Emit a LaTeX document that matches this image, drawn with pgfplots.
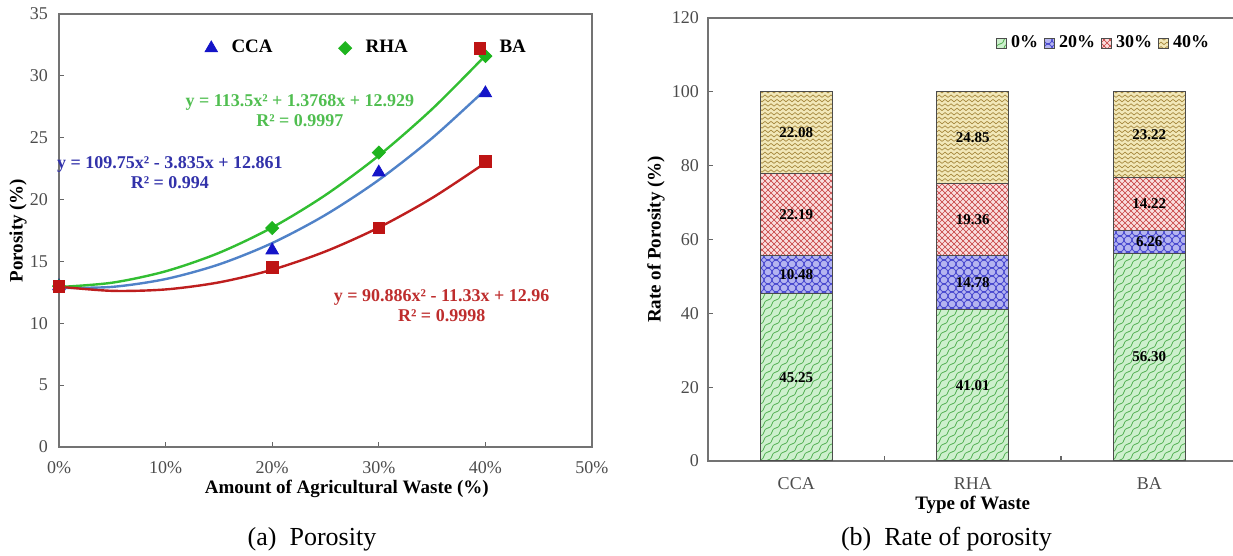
\documentclass[border=0pt]{standalone}
\usepackage{fontspec}
\setmainfont{Liberation Serif}
\usepackage{pgfplots}
\usepackage{pgfplotstable}
\pgfplotsset{compat=1.18}
\usetikzlibrary{patterns}

\definecolor{ccamark}{RGB}{20,20,200}
\definecolor{ccaline}{RGB}{80,130,200}
\definecolor{ccatext}{RGB}{50,50,170}
\definecolor{rhamark}{RGB}{30,180,30}
\definecolor{rhaline}{RGB}{50,190,50}
\definecolor{rhatext}{RGB}{80,190,80}
\definecolor{bamark}{RGB}{190,20,20}
\definecolor{baline}{RGB}{190,30,30}
\definecolor{batext}{RGB}{190,45,45}
\definecolor{gfill}{RGB}{205,240,205}
\definecolor{gline}{RGB}{70,170,70}
\definecolor{bfill}{RGB}{180,180,240}
\definecolor{bline}{RGB}{50,50,200}
\definecolor{rfill}{RGB}{250,222,222}
\definecolor{rline}{RGB}{200,70,70}
\definecolor{yfill}{RGB}{242,232,185}
\definecolor{yline}{RGB}{165,135,60}

\pgfdeclarepatternformonly{zz}{\pgfpoint{-0.5pt}{-0.5pt}}{\pgfpoint{3.5pt}{2.7pt}}{\pgfpoint{3pt}{2.2pt}}{%
  \pgfsetlinewidth{0.35pt}%
  \pgfpathmoveto{\pgfpoint{0pt}{0.5pt}}%
  \pgfpathlineto{\pgfpoint{1.5pt}{1.7pt}}%
  \pgfpathlineto{\pgfpoint{3pt}{0.5pt}}%
  \pgfusepath{stroke}}
\pgfdeclarepatternformonly{wave}{\pgfpoint{-0.5pt}{-0.5pt}}{\pgfpoint{4.5pt}{4.5pt}}{\pgfpoint{4pt}{4pt}}{%
  \pgfsetlinewidth{0.35pt}%
  \pgfpathmoveto{\pgfpoint{0pt}{0pt}}%
  \pgfpathcurveto{\pgfpoint{2.6pt}{0pt}}{\pgfpoint{1.4pt}{4pt}}{\pgfpoint{4pt}{4pt}}%
  \pgfusepath{stroke}}
\pgfdeclarepatternformonly{wavex}{\pgfpoint{-0.5pt}{-0.5pt}}{\pgfpoint{4.5pt}{4.5pt}}{\pgfpoint{4pt}{4pt}}{%
  \pgfsetlinewidth{0.35pt}%
  \pgfpathmoveto{\pgfpoint{0pt}{0pt}}%
  \pgfpathcurveto{\pgfpoint{2.6pt}{0pt}}{\pgfpoint{1.4pt}{4pt}}{\pgfpoint{4pt}{4pt}}%
  \pgfpathmoveto{\pgfpoint{0pt}{4pt}}%
  \pgfpathcurveto{\pgfpoint{2.6pt}{4pt}}{\pgfpoint{1.4pt}{0pt}}{\pgfpoint{4pt}{0pt}}%
  \pgfusepath{stroke}}
\pgfdeclarepatternformonly{xh}{\pgfpoint{-0.5pt}{-0.5pt}}{\pgfpoint{3.5pt}{3.5pt}}{\pgfpoint{3pt}{3pt}}{%
  \pgfsetlinewidth{0.35pt}%
  \pgfpathmoveto{\pgfpoint{0pt}{0pt}}\pgfpathlineto{\pgfpoint{3pt}{3pt}}%
  \pgfpathmoveto{\pgfpoint{0pt}{3pt}}\pgfpathlineto{\pgfpoint{3pt}{0pt}}%
  \pgfusepath{stroke}}

\pgfplotstableread{
x   p0    p20   p30   p40
0   45.25 10.48 22.19 22.08
1   41.01 14.78 19.36 24.85
2   56.30 6.26  14.22 23.22
}\ratetable

\tikzset{barlab/.style={font=\bfseries\fontsize{7.5}{9}\selectfont, text=black}}

\begin{document}
\begin{tikzpicture}
\useasboundingbox (0,0) rectangle (616.5pt,278pt);
% ---------------- (a) Porosity ----------------
\begin{axis}[
  at={(29.5pt,54.5pt)}, anchor=south west, scale only axis,
  width=266.5pt, height=216.5pt,
  xmin=0, xmax=0.5, ymin=0, ymax=35, clip=false,
  xtick={0,0.1,0.2,0.3,0.4,0.5}, xticklabels={0\%,10\%,20\%,30\%,40\%,50\%},
  ytick={0,5,10,15,20,25,30,35},
  tick align=inside, xtick pos=bottom, ytick pos=left, major tick length=2.5pt,
  axis line style={draw=black!55, line width=0.8pt},
  tick style={black!60, line width=0.6pt},
  ticklabel style={font=\fontsize{9}{10}\selectfont, text=black!70},
  xticklabel style={yshift=-3.5pt},
  yticklabel style={xshift=-2pt},
  /pgf/number format/assume math mode=true,
  xlabel={Amount of Agricultural Waste (\%)}, ylabel={Porosity (\%)},
  every axis x label/.style={at={(axis description cs:0.54,0)}, yshift=-21pt, anchor=center,
     font=\bfseries\fontsize{9.5}{11}\selectfont},
  every axis y label/.style={at={(axis description cs:-0.077,0.5)}, rotate=90, anchor=center,
     font=\bfseries\fontsize{9.5}{11}\selectfont},
  legend columns=3,
  legend style={at={(0.262,0.921)}, anchor=west, draw=none, fill=none,
    font=\bfseries\fontsize{9.5}{11}\selectfont,
    /tikz/every even column/.append style={column sep=31pt}},
]
% trend lines (from printed fit equations)
\addplot[ccaline, line width=1.2pt, smooth, forget plot] coordinates {
 (0,12.861) (0.05,12.943) (0.1,13.575) (0.15,14.755) (0.2,16.484)
 (0.25,18.762) (0.3,21.588) (0.35,24.963) (0.4,28.887)};
\addplot[rhaline, line width=1.2pt, smooth, forget plot] coordinates {
 (0,12.929) (0.05,13.282) (0.1,14.202) (0.15,15.689) (0.2,17.744)
 (0.25,20.367) (0.3,23.557) (0.35,27.315) (0.4,31.640)};
\addplot[baline, line width=1.2pt, smooth, forget plot] coordinates {
 (0,12.96) (0.05,12.621) (0.1,12.736) (0.15,13.305) (0.2,14.329)
 (0.25,15.808) (0.3,17.741) (0.35,20.128) (0.4,22.970)};
% data points
\addplot[only marks, mark=triangle*, mark size=3.6pt, color=ccamark] coordinates {
 (0,13.0) (0.2,15.9) (0.3,22.2) (0.4,28.6)};
\addlegendentry{\hspace{5pt}CCA}
\addplot[only marks, mark=square*, mark size=2.3pt, mark options={rotate=45}, color=rhamark] coordinates {
 (0,13.0) (0.2,17.7) (0.3,23.8) (0.4,31.6)};
\addlegendentry{\hspace{5pt}RHA}
\addplot[only marks, mark=square*, mark size=2.9pt, color=bamark] coordinates {
 (0,13.0) (0.2,14.5) (0.3,17.7) (0.4,23.1)};
\addlegendentry{\hspace{5pt}BA}
\node[text=rhatext, font=\bfseries\fontsize{9}{10}\selectfont, align=center] at (axis cs:0.226,27.2)
  {y = 113.5x² + 1.3768x + 12.929\\R² = 0.9997};
\node[text=ccatext, font=\bfseries\fontsize{9}{10}\selectfont, align=center] at (axis cs:0.104,22.2)
  {y = 109.75x² - 3.835x + 12.861\\R² = 0.994};
\node[text=batext, font=\bfseries\fontsize{9}{10}\selectfont, align=center] at (axis cs:0.359,11.4)
  {y = 90.886x² - 11.33x + 12.96\\R² = 0.9998};
\end{axis}

% ---------------- (b) Rate of porosity ----------------
\begin{axis}[
  at={(354pt,47.5pt)}, anchor=south west, scale only axis,
  width=264.75pt, height=221.5pt,
  ybar stacked, bar width=36pt,
  xmin=-0.5, xmax=2.5, ymin=0, ymax=120,
  ytick={0,20,40,60,80,100,120},
  xtick={0.5,1.5}, xticklabels={,},
  extra x ticks={0,1,2}, extra x tick labels={CCA,RHA,BA},
  extra x tick style={tick style={draw=none}, xticklabel style={yshift=-5pt}},
  tick align=inside, xtick pos=bottom, ytick pos=left, major tick length=2.5pt,
  axis line style={draw=black!55, line width=0.8pt},
  tick style={black!60, line width=0.6pt},
  ticklabel style={font=\fontsize{9}{10}\selectfont, text=black!70},
  yticklabel style={xshift=-1pt},
  /pgf/number format/assume math mode=true,
  xlabel={Type of Waste}, ylabel={Rate of Porosity (\%)},
  every axis x label/.style={at={(axis description cs:0.5,0)}, yshift=-22pt, anchor=center,
     font=\bfseries\fontsize{9.5}{11}\selectfont},
  every axis y label/.style={at={(axis description cs:-0.098,0.5)}, rotate=90, anchor=center,
     font=\bfseries\fontsize{9.5}{11}\selectfont},
  legend image code/.code={\draw[#1] (0pt,-2.5pt) rectangle (5pt,2.5pt);},
  legend columns=4,
  legend style={at={(0.532,0.943)}, anchor=west, draw=none, fill=none,
    font=\bfseries\fontsize{9}{11}\selectfont,
    /tikz/every even column/.append style={column sep=1pt}},
]
\addplot[fill=gfill, draw=black!70, line width=0.5pt, postaction={pattern=wave, pattern color=gline}]
  table[x=x, y=p0] {\ratetable};
\addlegendentry{0\%}
\addplot[fill=bfill, draw=black!70, line width=0.5pt, postaction={pattern=wavex, pattern color=bline}]
  table[x=x, y=p20] {\ratetable};
\addlegendentry{20\%}
\addplot[fill=rfill, draw=black!70, line width=0.5pt, postaction={pattern=xh, pattern color=rline}]
  table[x=x, y=p30] {\ratetable};
\addlegendentry{30\%}
\addplot[fill=yfill, draw=black!70, line width=0.5pt, postaction={pattern=zz, pattern color=yline}]
  table[x=x, y=p40] {\ratetable};
\addlegendentry{40\%}
\end{axis}
% value labels, in an overlay axis with the same geometry
\begin{axis}[
  at={(354pt,47.5pt)}, anchor=south west, scale only axis,
  width=264.75pt, height=221.5pt,
  xmin=-0.5, xmax=2.5, ymin=0, ymax=120, hide axis, clip=false,
]
\addplot[draw=none, mark=none, nodes near coords, point meta=explicit symbolic,
  every node near coord/.append style={barlab, anchor=center}]
  coordinates {
  (0,22.63) [45.25] (0,50.49) [10.48] (0,66.83) [22.19] (0,88.96) [22.08]
  (1,20.51) [41.01] (1,48.40) [14.78] (1,65.47) [19.36] (1,87.58) [24.85]
  (2,28.15) [56.30] (2,59.43) [6.26]  (2,69.67) [14.22] (2,88.39) [23.22]};
\end{axis}

\node[font=\fontsize{13}{15}\selectfont] at (156pt,8.5pt) {(a)\enspace Porosity};
\node[font=\fontsize{13}{15}\selectfont] at (473.25pt,8.5pt) {(b)\enspace Rate of porosity};
\end{tikzpicture}
\end{document}
